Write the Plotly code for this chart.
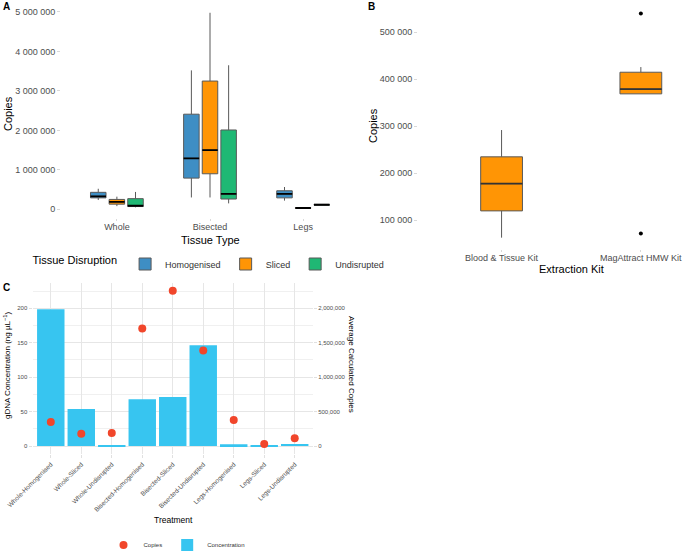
import plotly.graph_objects as go

W, H = 685, 553
FONT = "Liberation Sans, Arial, sans-serif"
GREY = "#4d4d4d"

# ---------------- Panel A data ----------------
tissue_types = ["Whole", "Bisected", "Legs"]
disruptions = ["Homogenised", "Sliced", "Undisrupted"]
disruption_colors = ["#3E8EC4", "#FF9505", "#1FB874"]
a_lower = {
    "Homogenised": [235000, 300000, 220000],
    "Sliced": [80000, 300000, 25000],
    "Undisrupted": [50000, 150000, 100000],
}
a_q1 = {
    "Homogenised": [290000, 790000, 290000],
    "Sliced": [130000, 900000, 28000],
    "Undisrupted": [70000, 260000, 105000],
}
a_median = {
    "Homogenised": [330000, 1290000, 390000],
    "Sliced": [190000, 1500000, 33000],
    "Undisrupted": [90000, 390000, 115000],
}
a_q3 = {
    "Homogenised": [430000, 2410000, 470000],
    "Sliced": [250000, 3250000, 38000],
    "Undisrupted": [270000, 2010000, 125000],
}
a_upper = {
    "Homogenised": [520000, 3520000, 565000],
    "Sliced": [320000, 4980000, 42000],
    "Undisrupted": [440000, 3650000, 130000],
}
a_ticks = [0, 1000000, 2000000, 3000000, 4000000, 5000000]

# ---------------- Panel B data ----------------
kits = ["Blood & Tissue Kit", "MagAttract HMW Kit"]
b_lower = [63000, 369000]
b_q1 = [120000, 369000]
b_median = [178000, 379000]
b_q3 = [235000, 415000]
b_upper = [292000, 426000]
b_outlier_kit = ["MagAttract HMW Kit", "MagAttract HMW Kit"]
b_outlier_val = [540000, 72000]
b_ticks = [100000, 200000, 300000, 400000, 500000]

# ---------------- Panel C data ----------------
treatments = ["Whole-Homogenised", "Whole-Sliced", "Whole-Undisrupted",
              "Bisected-Homogenised", "Bisected-Sliced", "Bisected-Undisrupted",
              "Legs-Homogenised", "Legs-Sliced", "Legs-Undisrupted"]
concentration = [198.5, 53.7, 0.5, 67.8, 71.2, 146.3, 2.4, 1.0, 2.9]
copies = [349000, 179000, 189000, 1705000, 2253000, 1386000, 378000, 29000, 112000]
c_right_ticks = [0, 500000, 1000000, 1500000, 2000000]


def space_fmt(v):
    return "{:,}".format(v).replace(",", " ")


def px_x(p):
    return p / W


def px_y(p):
    return 1 - p / H


fig = go.Figure()

# Panel A boxes
for name, col in zip(disruptions, disruption_colors):
    fig.add_trace(go.Box(
        x=tissue_types, q1=a_q1[name], median=a_median[name], q3=a_q3[name],
        lowerfence=a_lower[name], upperfence=a_upper[name],
        name=name, offsetgroup=name, fillcolor=col,
        line=dict(color="#595959", width=1), whiskerwidth=0,
        xaxis="x", yaxis="y", legend="legend", hoverinfo="skip",
    ))
for name in disruptions:
    fig.add_trace(go.Box(
        x=tissue_types, q1=a_median[name], median=a_median[name], q3=a_median[name],
        lowerfence=a_median[name], upperfence=a_median[name],
        name=name, offsetgroup=name, fillcolor="black",
        line=dict(color="black", width=1.8), whiskerwidth=0,
        showlegend=False, xaxis="x", yaxis="y", hoverinfo="skip",
    ))

# Panel B boxes
fig.add_trace(go.Box(
    x=kits, q1=b_q1, median=b_median, q3=b_q3, lowerfence=b_lower, upperfence=b_upper,
    name="kit", offsetgroup="kit", width=0.3, fillcolor="#FF9505",
    line=dict(color="#595959", width=1), whiskerwidth=0,
    showlegend=False, xaxis="x2", yaxis="y2", hoverinfo="skip",
))
fig.add_trace(go.Box(
    x=kits, q1=b_median, median=b_median, q3=b_median, lowerfence=b_median, upperfence=b_median,
    name="kitmed", offsetgroup="kit", width=0.3, fillcolor="black",
    line=dict(color="#333333", width=1.8), whiskerwidth=0,
    showlegend=False, xaxis="x2", yaxis="y2", hoverinfo="skip",
))
fig.add_trace(go.Scatter(
    x=b_outlier_kit, y=b_outlier_val, mode="markers",
    marker=dict(color="black", size=4), showlegend=False,
    xaxis="x2", yaxis="y2", hoverinfo="skip",
))

# Panel C
fig.add_trace(go.Bar(
    x=treatments, y=concentration, name="Concentration", width=0.9,
    marker=dict(color="#37C5F0", line=dict(width=0)),
    xaxis="x3", yaxis="y3", legend="legend2", legendrank=2,
))
fig.add_trace(go.Scatter(
    x=treatments, y=copies, name="Copies", mode="markers",
    marker=dict(color="#F1462B", size=8),
    xaxis="x3", yaxis="y4", legend="legend2", legendrank=1,
))

tickfont = dict(family=FONT, size=9, color=GREY)
tickfont_c = dict(family=FONT, size=6, color=GREY)
tickfont_cx = dict(family=FONT, size=6.5, color=GREY)

fig.update_layout(
    width=W, height=H, margin=dict(l=0, r=0, t=0, b=0, autoexpand=False),
    paper_bgcolor="white", plot_bgcolor="white",
    font=dict(family=FONT, color="black"),
    boxmode="group", boxgap=0.4, boxgroupgap=0.167,
    xaxis=dict(domain=[px_x(61), px_x(359)], anchor="y", type="category", automargin=False,
               categoryorder="array", categoryarray=tissue_types,
               range=[-0.6, 2.6], showgrid=False, zeroline=False, showline=False,
               ticks="outside", ticklen=2, tickcolor="#d9d9d9", tickfont=tickfont,
               ticklabelstandoff=-2),
    yaxis=dict(domain=[px_y(218.4), px_y(2.2)], anchor="x", automargin=False,
               range=[-230600, 5248000], showgrid=False, zeroline=False, showline=False,
               tickvals=a_ticks, ticktext=[space_fmt(v) for v in a_ticks],
               ticks="outside", ticklen=3, tickcolor="#d9d9d9", tickfont=tickfont),
    xaxis2=dict(domain=[px_x(418), 1.0], anchor="y2", type="category", automargin=False,
                categoryorder="array", categoryarray=kits,
                range=[-0.6, 1.317], showgrid=False, zeroline=False, showline=False,
                ticks="outside", ticklen=2, tickcolor="#d9d9d9", tickfont=tickfont,
                ticklabelstandoff=-2),
    yaxis2=dict(domain=[px_y(248.9), px_y(2.3)], anchor="x2", automargin=False,
                range=[39100, 563800], showgrid=False, zeroline=False, showline=False,
                tickvals=b_ticks, ticktext=[space_fmt(v) for v in b_ticks],
                ticks="outside", ticklen=3, tickcolor="#d9d9d9", tickfont=tickfont),
    xaxis3=dict(domain=[px_x(32.5), px_x(313)], anchor="y3", type="category", automargin=False,
                categoryorder="array", categoryarray=treatments,
                range=[-0.6, 8.6], showgrid=True, gridcolor="#e6e6e6", gridwidth=0.8,
                zeroline=False, showline=False, tickangle=-45,
                ticks="outside", ticklen=3, tickcolor="#e0e0e0", tickfont=tickfont_cx),
    yaxis3=dict(domain=[px_y(454), px_y(283)], anchor="x3", automargin=False,
                range=[-11.6, 236.7], dtick=50, tick0=0,
                showgrid=True, gridcolor="#e6e6e6", gridwidth=0.8,
                minor=dict(showgrid=True, gridcolor="#f0f0f0", dtick=25, tick0=0),
                zeroline=False, showline=False,
                ticks="outside", ticklen=3, tickcolor="#e0e0e0", tickfont=tickfont_c),
    yaxis4=dict(overlaying="y3", side="right", anchor="x3", automargin=False,
                range=[-116000, 2367000], tickvals=c_right_ticks, tickformat=",",
                showgrid=False, zeroline=False, showline=False,
                ticks="outside", ticklen=3, tickcolor="#e0e0e0", tickfont=tickfont_c),
    legend=dict(orientation="h", x=px_x(210), xanchor="center", y=px_y(264), yanchor="middle",
                title=dict(text="Tissue Disruption", font=dict(family=FONT, size=11, color="black")),
                font=dict(family=FONT, size=9, color="#333333"),
                itemwidth=30, tracegroupgap=0, bgcolor="rgba(0,0,0,0)"),
    legend2=dict(orientation="h", x=px_x(177), xanchor="center", y=px_y(545), yanchor="middle",
                 font=dict(family=FONT, size=6, color="#333333"),
                 itemwidth=30, bgcolor="rgba(0,0,0,0)", traceorder="normal"),
    showlegend=True,
)

ann = []


def add_text(text, x, y, size, angle=0, color="black", bold=False):
    ann.append(dict(text=("<b>%s</b>" % text) if bold else text,
                    x=px_x(x), y=px_y(y), xref="paper", yref="paper",
                    xanchor="center", yanchor="middle", showarrow=False,
                    textangle=angle, font=dict(family=FONT, size=size, color=color)))


add_text("A", 6, 6, 10, bold=True)
add_text("B", 371, 6, 10, bold=True)
add_text("C", 6, 287, 10, bold=True)
add_text("Copies", 8, 114, 11, angle=-90)
add_text("Tissue Type", 210, 240, 11)
add_text("Copies", 373, 126, 11, angle=-90)
add_text("Extraction Kit", 571, 269, 11)
add_text("gDNA Concentration (ng µL<sup>−1</sup>)", 7, 366, 8, angle=-90)
add_text("Average Calculated Copies", 352, 364, 8, angle=90)
add_text("Treatment", 173, 520, 8.5)

fig.update_layout(annotations=ann)

fig.write_html("out.html")
